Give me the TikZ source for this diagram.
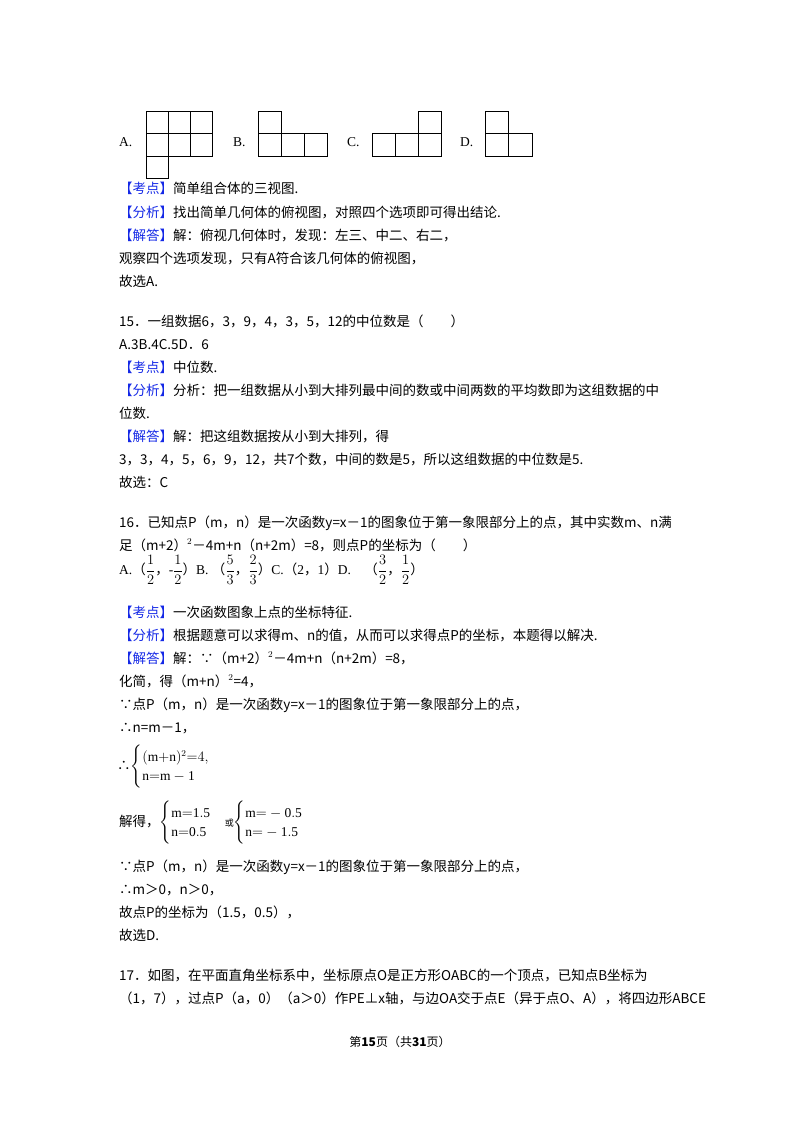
\documentclass[tikz,border=0pt]{standalone}
\usepackage{fontspec}
\setmainfont{Liberation Serif}
\newfontfamily\cjk{Noto Sans CJK SC}
\usepackage{amsmath}
\definecolor{lab}{RGB}{20,40,230}
\newcommand{\kw}[1]{\textcolor{lab}{【#1】}}
\begin{document}
\begin{tikzpicture}[x=1pt,y=-1pt,
  tl/.style={anchor=base west,inner sep=0pt,font=\fontsize{13.5}{16}\selectfont\cjk},
  cell/.style={draw,line width=0.9pt}]
\useasboundingbox (0,0) rectangle (800,1132);
% figures
\node[tl,font=\fontsize{13.5}{16}\selectfont] (la) at (119,146) {A.};
\foreach \i in {0,1,2}{\foreach \j in {0,1}{\draw[cell] (146+22.3*\i,111+22.6*\j) rectangle +(22.3,22.6);}}
\draw[cell] (146,156.2) rectangle +(22.3,22.6);
\node[tl,font=\fontsize{13.5}{16}\selectfont] (lb) at (233,146) {B.};
\draw[cell] (258,111) rectangle +(23,22.6);
\foreach \i in {0,1,2}{\draw[cell] (258+23*\i,133.6) rectangle +(23,23);}
\node[tl,font=\fontsize{13.5}{16}\selectfont] (lc) at (347,146) {C.};
\draw[cell] (418,111) rectangle +(23,22.6);
\foreach \i in {0,1,2}{\draw[cell] (372+23*\i,133.6) rectangle +(23,23);}
\node[tl,font=\fontsize{13.5}{16}\selectfont] (ld) at (460,146) {D.};
\draw[cell] (485,111) rectangle +(23,22.6);
\foreach \i in {0,1}{\draw[cell] (485+23.5*\i,133.6) rectangle +(23.5,23);}
% text
\node[tl] (t1) at (119,193) {\kw{考点}简单组合体的三视图.};
\node[tl] (t2) at (119,217) {\kw{分析}找出简单几何体的俯视图，对照四个选项即可得出结论.};
\node[tl] (t3) at (119,240) {\kw{解答}解：俯视几何体时，发现：左三、中二、右二，};
\node[tl] (t4) at (119,263) {观察四个选项发现，只有A符合该几何体的俯视图，};
\node[tl] (t5) at (119,286) {故选A.};
\node[tl] (s1) at (119,326) {15．一组数据6，3，9，4，3，5，12的中位数是（\quad\quad）};
\node[tl] (s2) at (119,349) {A.3B.4C.5D．6};
\node[tl] (s3) at (119,372) {\kw{考点}中位数.};
\node[tl] (s4) at (119,395) {\kw{分析}分析：把一组数据从小到大排列最中间的数或中间两数的平均数即为这组数据的中};
\node[tl] (s5) at (119,418) {位数.};
\node[tl] (s6) at (119,441) {\kw{解答}解：把这组数据按从小到大排列，得};
\node[tl] (s7) at (119,464) {3，3，4，5，6，9，12，共7个数，中间的数是5，所以这组数据的中位数是5.};
\node[tl] (s8) at (119,487) {故选：C};
\node[tl] (u1) at (119,527) {16．已知点P（m，n）是一次函数y=x－1的图象位于第一象限部分上的点，其中实数m、n满};
\node[tl] (u2) at (119,550) {足（m+2）$^{2}$－4m+n（n+2m）=8，则点P的坐标为（\quad\quad）};
\node[anchor=west,inner sep=0pt,font=\fontsize{13.5}{16}\selectfont] (u3) at (119,570) {A.{\cjk（}$\dfrac{1}{2}${\cjk，}-$\dfrac{1}{2}${\cjk）}B.\ {\cjk（}$\dfrac{5}{3}${\cjk，}$\dfrac{2}{3}${\cjk）}C.{\cjk（}2{\cjk，}1{\cjk）}D.\quad{\cjk（}$\dfrac{3}{2}${\cjk，}$\dfrac{1}{2}${\cjk）}};
\node[tl] (u4) at (119,617) {\kw{考点}一次函数图象上点的坐标特征.};
\node[tl] (u5) at (119,640) {\kw{分析}根据题意可以求得m、n的值，从而可以求得点P的坐标，本题得以解决.};
\node[tl] (u6) at (119,663) {\kw{解答}解：∵（m+2）$^{2}$－4m+n（n+2m）=8，};
\node[tl] (u7) at (119,686) {化简，得（m+n）$^{2}$=4，};
\node[tl] (u8) at (119,709) {∵点P（m，n）是一次函数y=x－1的图象位于第一象限部分上的点，};
\node[tl] (u9) at (119,732) {∴n=m－1，};
\node[anchor=west,inner sep=0pt,font=\fontsize{13.5}{16}\selectfont] (u10) at (117,767) {{\cjk ∴}$\begin{cases}(\mathrm{m{+}n})^{2}{=}4,\\ \mathrm{n{=}m-1}\end{cases}$};
\node[anchor=west,inner sep=0pt,font=\fontsize{13.5}{16}\selectfont] (u11) at (119,823) {{\cjk 解得，}$\begin{cases}\mathrm{m{=}1.5}\\ \mathrm{n{=}0.5}\end{cases}${\cjk\small 或}$\begin{cases}\mathrm{m{=}-0.5}\\ \mathrm{n{=}-1.5}\end{cases}$};
\node[tl] (u12) at (119,871) {∵点P（m，n）是一次函数y=x－1的图象位于第一象限部分上的点，};
\node[tl] (u13) at (119,894) {∴m＞0，n＞0，};
\node[tl] (u14) at (119,917) {故点P的坐标为（1.5，0.5），};
\node[tl] (u15) at (119,940) {故选D.};
\node[tl] (v1) at (119,980) {17．如图，在平面直角坐标系中，坐标原点O是正方形OABC的一个顶点，已知点B坐标为};
\node[tl] (v2) at (119,1003) {（1，7），过点P（a，0）（a＞0）作PE⊥x轴，与边OA交于点E（异于点O、A），将四边形ABCE};
\node[anchor=base,inner sep=0pt,font=\fontsize{12}{14}\selectfont\cjk] (ft) at (400,1046) {第\textbf{15}页（共\textbf{31}页）};
\end{tikzpicture}
\end{document}
